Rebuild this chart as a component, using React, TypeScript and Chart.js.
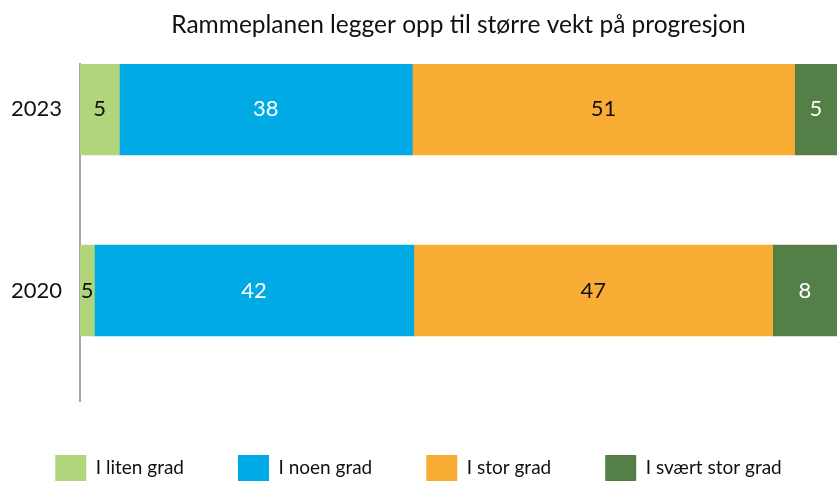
import React, { useEffect, useRef } from "react";
import { Chart, registerables } from "chart.js";

Chart.register(...registerables);

const chartTitle = "Rammeplanen legger opp til større vekt på progresjon";
const years = ["2023", "2020"];
const seriesNames = ["I liten grad", "I noen grad", "I stor grad", "I svært stor grad"];

// bar lengths (percent of the bar)
const litenGrad = [5.2, 1.9];
const noenGrad = [38.7, 42.2];
const storGrad = [50.5, 47.4];
const svaertStorGrad = [5.6, 8.5];

// numbers printed on the segments
const litenLabels = ["5", "5"];
const noenLabels = ["38", "42"];
const storLabels = ["51", "47"];
const svaertLabels = ["5", "8"];

const seriesColors = ["#b0d57a", "#00aae5", "#faad34", "#548048"];
const labelColors = ["#111111", "#ffffff", "#111111", "#ffffff"];
const FONT = "Lato, 'Noto Sans', sans-serif";

const seriesValues = [litenGrad, noenGrad, storGrad, svaertStorGrad];
const seriesLabels = [litenLabels, noenLabels, storLabels, svaertLabels];

const valueLabelPlugin = {
  id: "valueLabels",
  afterDatasetsDraw(chart: any) {
    const ctx = chart.ctx;
    chart.data.datasets.forEach((ds: any, di: number) => {
      const meta = chart.getDatasetMeta(di);
      meta.data.forEach((bar: any, i: number) => {
        const p = bar.getProps(["x", "y", "base"], true);
        ctx.save();
        ctx.font = `22px ${FONT}`;
        ctx.fillStyle = labelColors[di];
        ctx.textAlign = "center";
        ctx.textBaseline = "middle";
        ctx.fillText(seriesLabels[di][i], (p.x + p.base) / 2, p.y);
        ctx.restore();
      });
    });
  },
};

export default function App() {
  const ref = useRef<HTMLCanvasElement | null>(null);

  useEffect(() => {
    document.body.style.margin = "0";
    const canvas = ref.current;
    if (!canvas) return;
    const chart = new Chart(canvas, {
      type: "bar",
      data: {
        datasets: seriesNames.map((name, si) => ({
          label: name,
          data: seriesValues[si].map((v, i) => ({ x: v, y: i })),
          backgroundColor: seriesColors[si],
          borderWidth: 0,
          barThickness: 91,
        })),
      },
      options: {
        indexAxis: "y",
        animation: false,
        responsive: true,
        maintainAspectRatio: false,
        devicePixelRatio: 1,
        layout: { padding: { left: 0, right: 0, top: 0, bottom: -10 } },
        scales: {
          x: {
            type: "linear",
            stacked: true,
            min: 0,
            max: 100,
            display: false,
          },
          y: {
            type: "linear",
            stacked: true,
            reverse: true,
            offset: false,
            min: -0.25,
            max: 1.61,
            position: "left",
            afterBuildTicks: (scale: any) => {
              scale.ticks = years.map((_, i) => ({ value: i }));
            },
            afterFit: (scale: any) => {
              scale.width = 80;
            },
            ticks: {
              callback: (v: any) => years[v] ?? "",
              font: { family: FONT, size: 22 },
              color: "#111111",
              padding: 18,
            },
            grid: { display: false, drawTicks: false, offset: false },
            border: { display: true, color: "#a6a6a6", width: 2 },
          },
        },
        plugins: {
          title: {
            display: true,
            fullSize: false,
            text: chartTitle,
            color: "#111111",
            font: { family: FONT, size: 24.5, weight: "normal" },
            padding: { top: 10, bottom: 24.6 },
          },
          legend: {
            display: true,
            position: "bottom",
            labels: {
              boxWidth: 31,
              boxHeight: 26,
              padding: 54,
              color: "#111111",
              font: { family: FONT, size: 19 },
            },
          },
          tooltip: { enabled: false },
        },
      },
      plugins: [valueLabelPlugin],
    } as any);
    return () => chart.destroy();
  }, []);

  return (
    <div style={{ position: "absolute", left: 0, top: 0, width: 837, height: 481 }}>
      <canvas ref={ref} />
    </div>
  );
}
